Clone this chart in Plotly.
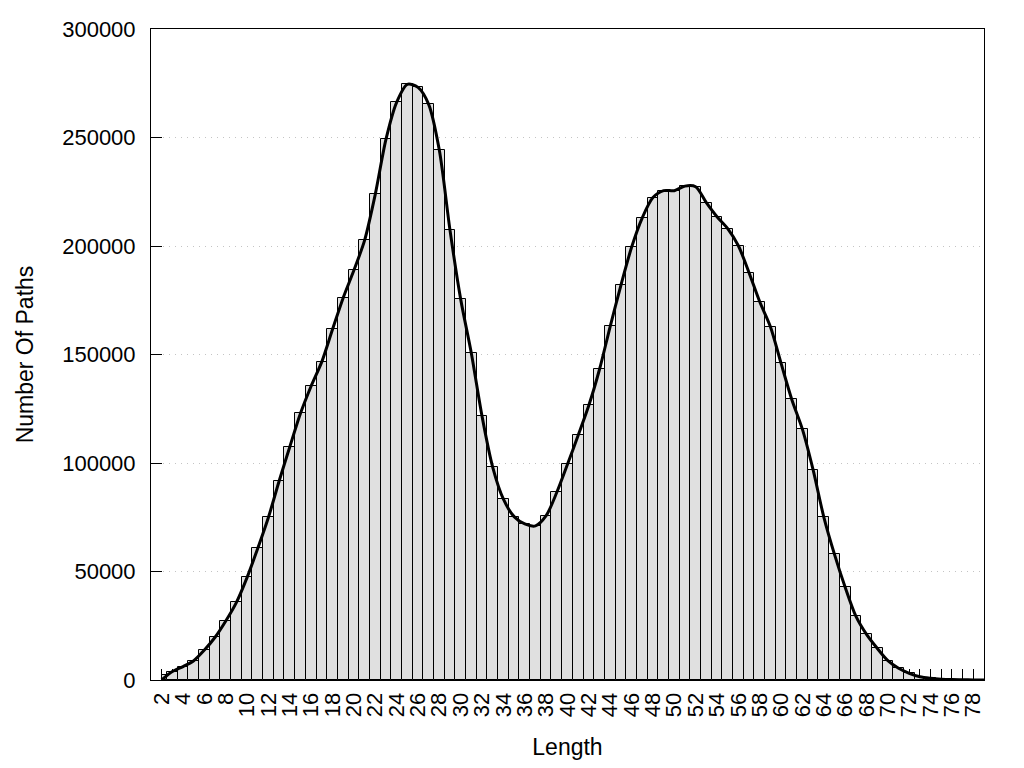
import plotly.graph_objects as go

# Path length categories (bars)
lengths = list(range(2, 79))

# Number of paths per length
paths = [
    2500, 3900, 6200, 8900, 13800, 19700, 27200, 35800, 47300, 60700,
    75000, 91700, 107500, 122900, 135500, 146700, 161600, 176200, 188800, 202600,
    223800, 249100, 266200, 274500, 273100, 265300, 244100, 207200, 175400, 150500,
    121500, 98000, 83300, 75300, 71900, 71000, 75700, 86500, 99400, 112800,
    126600, 143200, 163000, 181900, 199400, 213000, 222300, 225500, 225500, 227600,
    227300, 220000, 213500, 208000, 200100, 187700, 174300, 162800, 145900, 129300,
    115500, 96800, 75100, 57900, 42700, 29400, 21000, 14600, 8900, 5400,
    3100, 1500, 800, 400, 200, 100, 50,
]

# Smoothed curve drawn over the bars
curve_lengths = list(range(2, 80))
curve_values = [
    0, 3900, 6200, 8900, 13800, 19700, 27200, 35800, 47300, 60700,
    75000, 91700, 107500, 122900, 135500, 146700, 161600, 176200, 188800, 202600,
    223800, 249100, 266200, 274500, 273100, 265300, 244100, 207200, 175400, 150500,
    121500, 98000, 83300, 75300, 71900, 71000, 75700, 86500, 99400, 112800,
    126600, 143200, 163000, 181900, 199400, 213000, 222300, 225500, 225500, 227600,
    227300, 220000, 213500, 208000, 200100, 187700, 174300, 162800, 145900, 129300,
    115500, 96800, 75100, 57900, 42700, 29400, 21000, 14600, 8900, 5400,
    3100, 1500, 800, 400, 200, 100, 50, 0,
]

y_ticks = [0, 50000, 100000, 150000, 200000, 250000, 300000]
x_tick_vals = list(range(2, 79))
x_tick_text = [str(v) if v % 2 == 0 else "" for v in x_tick_vals]

# first / last box are half-width (as gnuplot draws them)
widths = [0.5] + [1.0] * (len(lengths) - 2) + [0.5]
offsets = [0.0] + [-0.5] * (len(lengths) - 2) + [-0.5]

FONT = "Liberation Sans, Arial, sans-serif"

fig = go.Figure()
fig.add_trace(go.Bar(
    x=lengths, y=paths, width=widths, offset=offsets,
    marker=dict(color="#e0e0e0", line=dict(color="black", width=1)),
    showlegend=False, hoverinfo="x+y",
))
fig.add_trace(go.Scatter(
    x=curve_lengths, y=curve_values, mode="lines",
    line=dict(color="black", width=3, shape="spline", smoothing=0.8),
    showlegend=False, hoverinfo="skip",
))

fig.update_layout(
    width=1008, height=752,
    margin=dict(l=143, r=32, t=21, b=80, autoexpand=False),
    paper_bgcolor="white", plot_bgcolor="white",
    font=dict(family=FONT, size=22, color="black"),
    bargap=0,
    xaxis=dict(
        range=[1, 79], automargin=False,
        tickmode="array", tickvals=x_tick_vals, ticktext=x_tick_text,
        tickangle=-90, ticks="inside", ticklen=11, tickcolor="black", tickwidth=1,
        showline=True, linecolor="black", linewidth=1, mirror=True,
        showgrid=False, zeroline=False, layer="below traces",
        ticklabelstandoff=3,
        title=dict(text="Length", font=dict(size=23), standoff=22),
    ),
    yaxis=dict(
        range=[0, 300000], automargin=False,
        tickmode="array", tickvals=y_ticks, ticktext=[str(v) for v in y_ticks],
        ticks="inside", ticklen=11, tickcolor="black", tickwidth=1,
        showline=True, linecolor="black", linewidth=1, mirror=True,
        showgrid=True, gridcolor="#c4c4c4", griddash="1px,5px", gridwidth=1,
        zeroline=False, layer="below traces",
        ticklabelstandoff=10,
        title=dict(text="Number Of Paths", font=dict(size=23), standoff=22),
    ),
)

fig.write_html("out.html")
